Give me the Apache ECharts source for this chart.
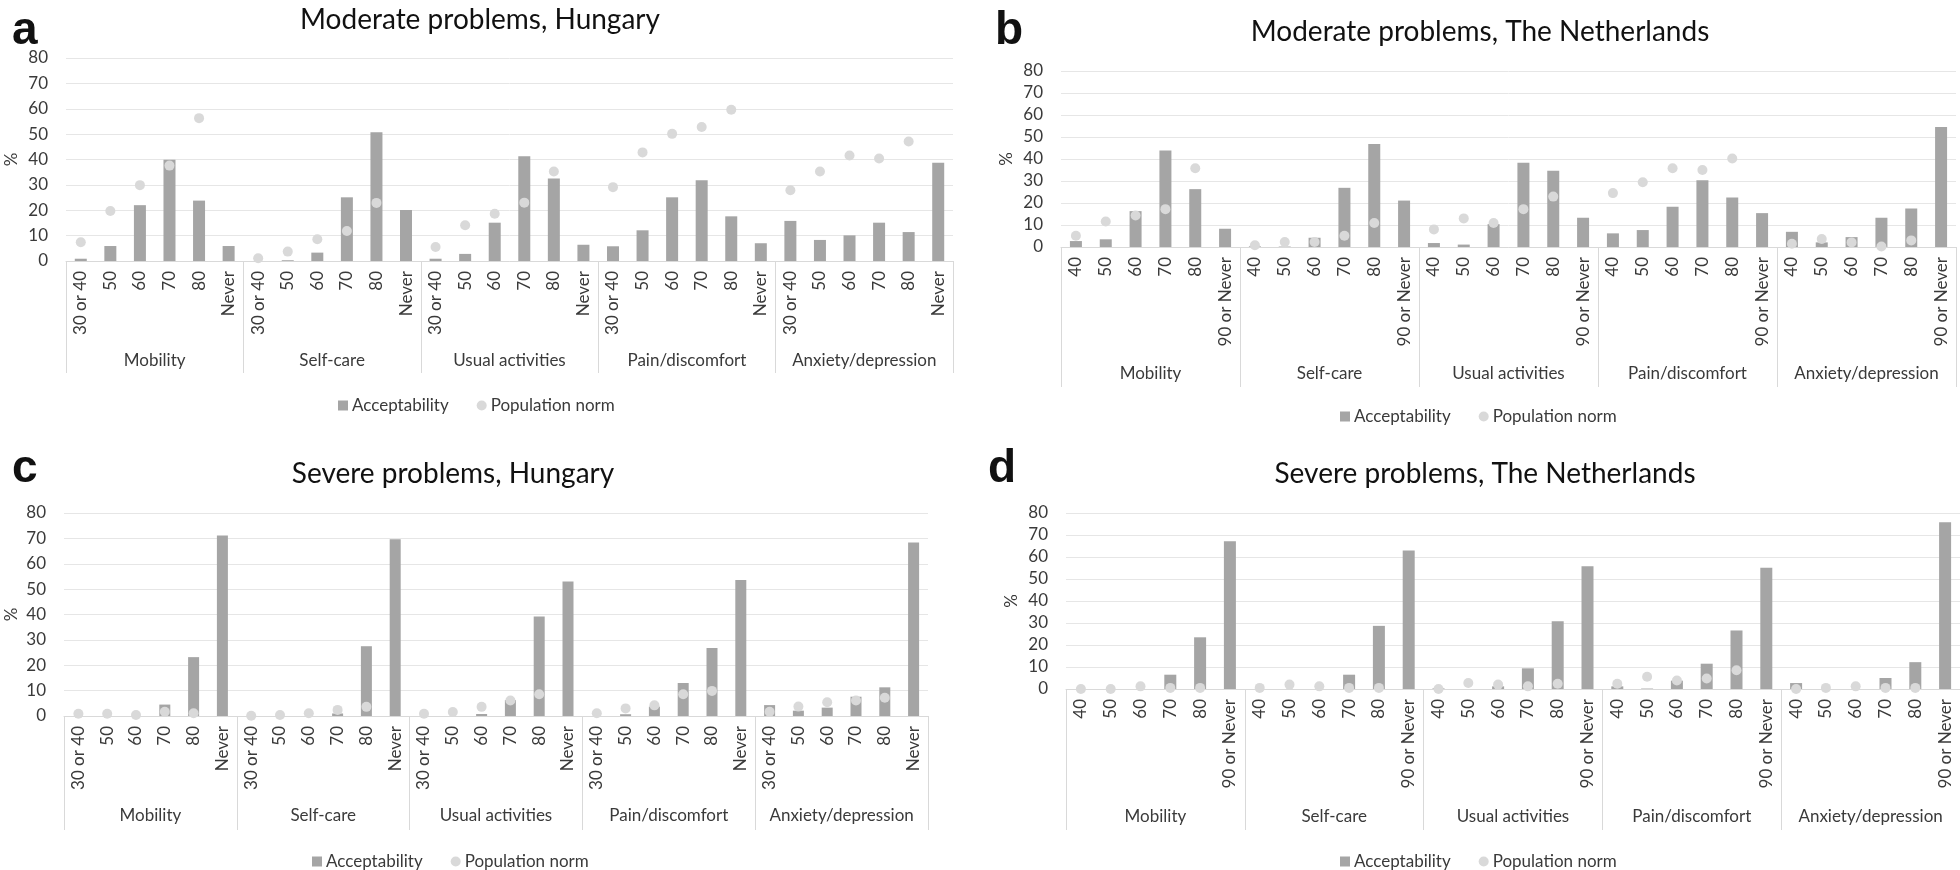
<!DOCTYPE html>
<html>
<head>
<meta charset="utf-8">
<script src="https://cdn.jsdelivr.net/npm/echarts@6/dist/echarts.min.js"></script>
<style>
html,body{margin:0;padding:0;background:#fff;}
#c{width:1960px;height:870px;}
</style>
</head>
<body>
<div id="c"></div>
<script>
// ---- data ----
const groups = ['Mobility', 'Self-care', 'Usual activities', 'Pain/discomfort', 'Anxiety/depression'];
const levelsHU = ['30 or 40', '50', '60', '70', '80', 'Never'];
const levelsNL = ['40', '50', '60', '70', '80', '90 or Never'];
const yTicks = [0, 10, 20, 30, 40, 50, 60, 70, 80];

const titles = ['Moderate problems, Hungary', 'Moderate problems, The Netherlands',
                'Severe problems, Hungary', 'Severe problems, The Netherlands'];
const panelLetters = ['a', 'b', 'c', 'd'];

const modHU_acc = [0.9, 5.9, 22.0, 39.9, 23.8, 5.9, 0, 0.3, 3.3, 25.1, 50.7, 20.1, 0.9, 2.8, 15.1, 41.3, 32.5, 6.4, 5.8, 12.1, 25.1, 31.8, 17.6, 7.0, 15.8, 8.3, 10.1, 15.1, 11.4, 38.7];
const modHU_pop = [7.4, 19.7, 29.9, 37.6, 56.3, null, 1.1, 3.7, 8.6, 11.8, 22.9, null, 5.5, 14.1, 18.6, 23.0, 35.3, null, 29.1, 42.8, 50.1, 52.8, 59.6, null, 27.9, 35.3, 41.6, 40.4, 47.1, null];

const modNL_acc = [2.7, 3.5, 16.3, 43.9, 26.3, 8.3, 0.3, 0.2, 4.2, 26.9, 46.8, 21.1, 1.8, 1.1, 10.4, 38.3, 34.7, 13.3, 6.2, 7.7, 18.3, 30.3, 22.5, 15.4, 6.9, 2.1, 4.5, 13.3, 17.5, 54.6];
const modNL_pop = [5.1, 11.6, 14.3, 17.2, 35.8, null, 0.8, 2.3, 2.3, 5.1, 10.9, null, 8.0, 13.0, 10.9, 17.2, 22.9, null, 24.5, 29.4, 35.8, 35.0, 40.2, null, 1.5, 3.6, 2.1, 0.2, 3.0, null];

const sevHU_acc = [0, 0, 0, 4.5, 23.2, 71.1, 0, 0, 0, 1.0, 27.5, 69.7, 0, 0, 0.8, 6.3, 39.2, 53.0, 0, 0.7, 3.7, 13.0, 26.8, 53.6, 4.3, 2.1, 3.3, 7.6, 11.3, 68.4];
const sevHU_pop = [0.9, 0.9, 0.4, 1.7, 1.1, null, 0.1, 0.4, 1.1, 2.4, 3.6, null, 0.9, 1.6, 3.6, 6.1, 8.6, null, 1.1, 3.0, 4.2, 8.6, 9.9, null, 1.7, 3.7, 5.4, 6.1, 7.2, null];

const sevNL_acc = [0, 0, 0, 6.5, 23.5, 67.2, 0, 0, 0, 6.5, 28.7, 62.9, 0.3, 0, 1.2, 9.4, 30.8, 55.8, 1.2, 0.2, 3.8, 11.5, 26.6, 55.1, 2.7, 0, 0, 5.0, 12.2, 75.8];
const sevNL_pop = [0, 0, 1.2, 0.5, 0.5, null, 0.5, 2.0, 1.2, 0.5, 0.5, null, 0, 2.7, 2.0, 1.2, 2.4, null, 2.4, 5.6, 3.9, 4.8, 8.5, null, 0, 0.5, 1.2, 0.5, 0.5, null];

// ---- build ----
function cats(levels) {
  const out = [];
  groups.forEach(() => levels.forEach(l => out.push(l)));
  return out;
}

const FONT = 'Lato';
const FS = 17;
const TXT = '#3a3a3a';
const BAR = '#a5a5a5';
const DOT = '#d9d9d9';
const LINE = '#d9d9d9';

const panels = [
  {grid: {left: 66, top: 58, width: 887, height: 203}, cats: cats(levelsHU), acc: modHU_acc, pop: modHU_pop,
   sepLen: 112, grpMargin: 91, barW: 12, title: {x: 475, y: 1}, letter: {x: 7, y: 3}, legend: {x: 333, y: 392}, nameGap: 46},
  {grid: {left: 1061, top: 71, width: 895, height: 176}, cats: cats(levelsNL), acc: modNL_acc, pop: modNL_pop,
   sepLen: 140, grpMargin: 118, barW: 12, title: {x: 1475, y: 13}, letter: {x: 990, y: 3}, legend: {x: 1335, y: 403}, nameGap: 46},
  {grid: {left: 64, top: 513, width: 864, height: 203}, cats: cats(levelsHU), acc: sevHU_acc, pop: sevHU_pop,
   sepLen: 114, grpMargin: 91, barW: 11, title: {x: 448, y: 455}, letter: {x: 7, y: 441}, legend: {x: 307, y: 848}, nameGap: 44},
  {grid: {left: 1066, top: 513, width: 895, height: 176}, cats: cats(levelsNL), acc: sevNL_acc, pop: sevNL_pop,
   sepLen: 141, grpMargin: 119, barW: 12, title: {x: 1480, y: 455}, letter: {x: 983, y: 441}, legend: {x: 1335, y: 848}, nameGap: 46}
];

const option = {
  animation: false,
  backgroundColor: '#fff',
  textStyle: {fontFamily: FONT},
  title: [], grid: [], xAxis: [], yAxis: [], series: [], legend: []
};

panels.forEach((p, i) => {
  option.grid.push(Object.assign({containLabel: false}, p.grid));
  option.title.push({
    text: titles[i], left: p.title.x, top: p.title.y, textAlign: 'center',
    textStyle: {fontFamily: FONT, fontSize: 28, fontWeight: 'normal', color: '#111'}
  });
  option.title.push({
    text: panelLetters[i], left: p.letter.x, top: p.letter.y,
    textStyle: {fontFamily: 'Liberation Sans', fontSize: 46, fontWeight: 'bold', color: '#111'}
  });
  // category level axis
  option.xAxis.push({
    type: 'category', gridIndex: i, data: p.cats, position: 'bottom',
    axisLine: {show: true, lineStyle: {color: LINE, width: 1}},
    axisTick: {show: false},
    axisLabel: {interval: 0, rotate: 90, margin: 10, fontSize: FS, color: TXT, fontFamily: FONT},
    splitLine: {show: false}
  });
  // group axis (separators + group names)
  option.xAxis.push({
    type: 'category', gridIndex: i, data: groups, position: 'bottom', boundaryGap: true,
    axisLine: {show: false},
    axisTick: {show: true, interval: 0, length: p.sepLen, lineStyle: {color: LINE, width: 1}},
    axisLabel: {interval: 0, margin: p.grpMargin, fontSize: FS, color: TXT, fontFamily: FONT},
    splitLine: {show: false}
  });
  option.yAxis.push({
    type: 'value', gridIndex: i, min: yTicks[0], max: yTicks[yTicks.length - 1], interval: 10,
    name: '%', nameLocation: 'middle', nameRotate: 90, nameGap: p.nameGap,
    nameTextStyle: {fontSize: FS, color: TXT, fontFamily: FONT},
    axisLine: {show: false}, axisTick: {show: false},
    axisLabel: {margin: 18, fontSize: FS, color: TXT, fontFamily: FONT},
    splitLine: {show: true, lineStyle: {color: '#e6e6e6', width: 1}}
  });
  option.series.push({
    name: 'Acceptability', type: 'bar', xAxisIndex: i * 2, yAxisIndex: i,
    data: p.acc, barWidth: p.barW, itemStyle: {color: BAR}, z: 2
  });
  option.series.push({
    name: 'Population norm', type: 'scatter', xAxisIndex: i * 2, yAxisIndex: i,
    data: p.pop, symbol: 'circle', symbolSize: 10, itemStyle: {color: DOT, opacity: 1}, z: 3
  });
  option.legend.push({
    left: p.legend.x, top: p.legend.y, itemWidth: 10, itemHeight: 10, itemGap: 28,
    textStyle: {fontSize: FS, color: TXT, fontFamily: FONT, padding: [0, 0, 0, -1]},
    data: [{name: 'Acceptability', icon: 'rect'}, {name: 'Population norm', icon: 'circle'}],
    selectedMode: false
  });
});

const chart = echarts.init(document.getElementById('c'), null, {renderer: 'canvas'});
chart.setOption(option);
</script>
</body>
</html>
